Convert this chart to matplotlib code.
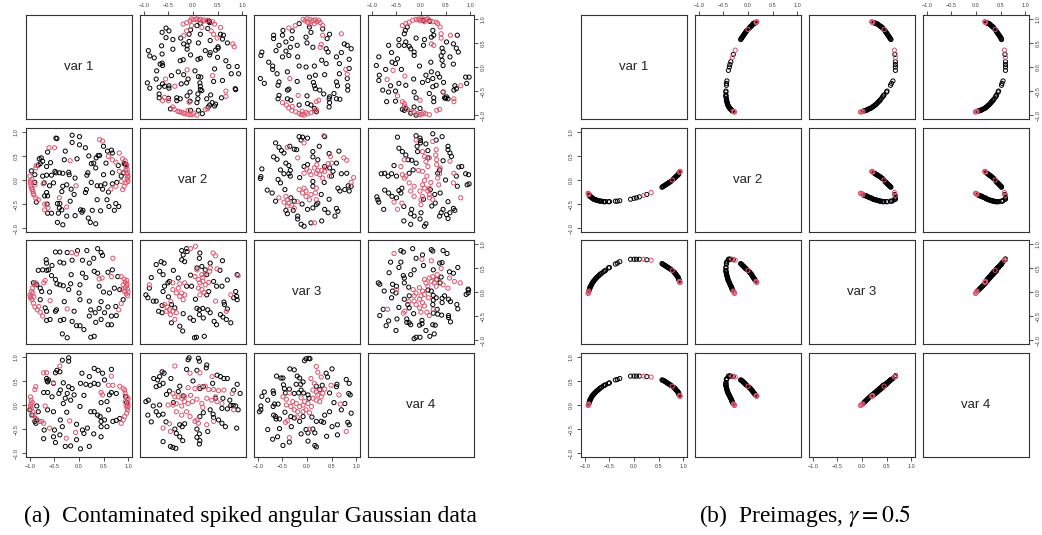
import numpy as np
import matplotlib
matplotlib.use("Agg")
import matplotlib.pyplot as plt

plt.rcParams['font.family'] = ['Liberation Sans', 'DejaVu Sans']
plt.rcParams['mathtext.fontset'] = 'stix'

RED = "#DF536B"

var_names = ["var 1", "var 2", "var 3", "var 4"]
tick_vals = [-1.0, -0.5, 0.0, 0.5, 1.0]
tick_text = ["\u22121.0", "\u22120.5", "0.0", "0.5", "1.0"]
caption_a = "(a)  Contaminated spiked angular Gaussian data"
caption_b = r"(b)  Preimages, $\gamma = 0.5$"

# ---- (a) data, one set per pair: x = var j, y = var i (i > j) ----
a21_black = [(-0.47, 0.87), (-0.45, 0.86), (-0.14, 0.93), (0.01, 0.90), (-0.14, 0.78), (0.01, 0.73), (0.13, 0.67),
             (-0.28, 0.60), (-0.64, 0.58), (-0.81, 0.44), (-0.77, 0.46), (-0.74, 0.39), (-0.79, 0.34), (-0.83, 0.31),
             (-0.66, 0.28), (-0.49, 0.18), (-0.47, 0.15), (-0.40, 0.15), (-0.33, 0.14), (-0.21, 0.16), (-0.20, 0.11),
             (-0.04, 0.44), (0.18, 0.15), (0.16, 0.10), (0.25, 0.34), (0.30, 0.35), (0.35, 0.46), (0.39, 0.51),
             (0.42, 0.51), (0.34, 0.25), (0.50, 0.11), (0.68, 0.15), (0.58, 0.60), (0.66, 0.62), (0.68, 0.56),
             (0.92, 0.34), (0.96, 0.32), (0.94, 0.33), (-0.97, 0.19), (-0.90, 0.11), (-0.74, 0.08), (-0.66, 0.10),
             (-0.56, 0.10), (-0.71, -0.06), (-0.52, -0.06), (-0.33, -0.13), (-0.25, -0.10), (-0.08, 0.04),
             (-0.35, -0.24), (-0.16, -0.19), (-0.66, -0.26), (-0.64, -0.33), (-0.70, -0.33), (-0.87, -0.46),
             (-0.65, -0.50), (-0.44, -0.49), (-0.39, -0.49), (-0.40, -0.58), (-0.35, -0.62), (-0.42, -0.69),
             (-0.64, -0.69), (-0.56, -0.69), (-0.18, -0.44), (0.03, -0.62), (0.06, -0.67), (0.08, -0.63),
             (-0.08, -0.74), (0.15, -0.20), (0.13, -0.26), (0.37, -0.12), (0.44, -0.12), (0.48, -0.19),
             (0.37, -0.41), (0.27, -0.63), (0.44, -0.64), (0.61, -0.55), (0.72, -0.63), (0.57, -0.41),
             (0.75, -0.49), (0.81, -0.55), (0.19, -0.79), (0.23, -0.88), (0.34, -0.91), (-0.44, -0.88),
             (-0.33, -0.93), (0.68, -0.08), (0.77, -0.05), (0.86, 0.08), (0.91, 0.15), (0.53, -0.08),
             (-0.58, 0.36), (-0.30, 0.42), (0.20, 0.50), (0.55, 0.35), (-0.60, -0.12), (0.25, -0.05),
             (-0.10, -0.30), (0.60, -0.25), (-0.90, -0.05), (0.80, 0.30), (-0.25, -0.75), (0.50, 0.70)]
a21_red = [(-0.61, 0.67), (-0.50, 0.67), (-0.18, 0.40), (0.42, 0.84), (0.48, 0.81), (0.60, 0.49), (0.68, 0.42),
           (0.75, 0.37), (0.82, 0.56), (0.89, 0.44), (0.94, 0.40), (0.96, 0.28), (0.98, 0.22), (0.99, 0.15),
           (1.00, 0.08), (0.98, 0.01), (0.96, -0.06), (0.92, -0.13), (0.89, -0.20), (0.82, 0.18), (0.86, -0.03),
           (1.00, -0.03), (0.97, 0.12), (0.95, 0.20), (0.65, -0.19), (-1.00, 0.08), (-0.99, -0.06), (-0.97, -0.17),
           (-0.94, -0.24), (-0.92, -0.31), (-0.88, -0.38), (-0.83, -0.41), (-0.90, -0.10), (-0.96, 0.01),
           (-0.98, -0.12), (-0.95, -0.20), (-0.88, 0.25), (-0.73, -0.08), (-0.87, 0.30), (-0.70, -0.50),
           (-0.70, -0.62), (-0.63, -0.58), (-0.40, -0.37), (-0.06, -0.12), (-0.25, -0.56), (0.75, -0.13),
           (0.99, 0.05), (0.97, 0.30), (-0.99, -0.02), (-0.93, -0.28)]

a31_black = [(-0.48, 0.83), (-0.39, 0.83), (-0.24, 0.82), (-0.03, 0.86), (0.16, 0.86), (0.38, 0.90), (0.45, 0.82),
             (0.48, 0.76), (-0.67, 0.67), (-0.66, 0.60), (-0.39, 0.62), (-0.31, 0.60), (-0.14, 0.66), (0.07, 0.66),
             (0.21, 0.60), (0.31, 0.43), (0.38, 0.39), (-0.83, 0.45), (-0.74, 0.46), (-0.66, 0.45), (-0.62, 0.46),
             (0.07, 0.39), (-0.16, 0.36), (0.59, 0.41), (0.68, 0.46), (0.79, 0.32), (-0.93, 0.19), (-0.86, 0.15),
             (-0.79, 0.08), (-0.76, 0.01), (-0.48, 0.26), (-0.45, 0.17), (-0.39, 0.15), (-0.32, 0.13), (-0.21, 0.05),
             (-0.17, 0.17), (0.02, 0.15), (0.00, -0.02), (0.02, -0.16), (0.21, -0.19), (0.41, 0.12), (0.72, 0.08),
             (0.62, -0.02), (0.83, 0.05), (0.90, -0.16), (-0.79, -0.16), (-0.69, -0.33), (-0.66, -0.40),
             (-0.48, -0.40), (-0.46, -0.37), (0.24, -0.37), (0.33, -0.43), (0.41, -0.34), (0.52, -0.43),
             (0.59, -0.31), (0.66, -0.50), (0.76, -0.49), (-0.38, -0.59), (-0.31, -0.57), (-0.14, -0.61),
             (-0.05, -0.70), (0.02, -0.70), (0.10, -0.78), (0.34, -0.63), (0.45, -0.57), (0.59, -0.68),
             (0.66, -0.68), (-0.34, -0.87), (-0.24, -0.95), (0.24, -0.94), (0.31, -0.92), (0.21, -0.50),
             (-0.59, -0.57), (-0.66, -0.59), (-0.56, 0.34), (0.14, 0.30), (-0.30, -0.20), (0.50, 0.00),
             (-0.55, 0.55), (0.30, 0.70), (-0.10, -0.40), (0.45, -0.20), (0.75, -0.30), (-0.60, 0.00)]
a31_red = [(-0.15, 0.82), (-0.05, 0.79), (0.69, 0.70), (0.41, 0.27), (0.47, 0.29), (0.66, 0.32), (0.86, 0.32),
           (0.92, 0.27), (0.94, 0.20), (0.97, 0.13), (0.99, 0.06), (1.00, 0.00), (0.99, -0.08), (0.97, 0.24),
           (0.90, 0.15), (0.88, 0.06), (0.93, 0.01), (0.96, -0.04), (0.86, -0.24), (0.81, -0.37), (-1.00, -0.06),
           (-0.98, -0.09), (-0.96, -0.16), (-0.93, -0.23), (-0.90, -0.31), (-0.85, -0.37), (-0.79, -0.42),
           (-0.74, -0.50), (-0.97, 0.01), (-0.95, 0.08), (-0.91, 0.15), (-0.88, 0.19), (-0.99, -0.12),
           (-0.94, -0.02), (-0.69, 0.24), (-0.72, 0.19), (-0.59, -0.18), (-0.24, -0.35), (0.98, 0.17),
           (0.95, 0.09), (-0.92, -0.10), (-0.82, -0.30)]

a41_black = [(-0.34, 0.93), (-0.21, 0.98), (-0.21, 0.91), (-0.45, 0.72), (-0.39, 0.69), (-0.48, 0.67), (0.06, 0.66),
             (0.31, 0.76), (0.39, 0.72), (0.48, 0.66), (0.66, 0.74), (0.21, 0.59), (0.52, 0.52), (-0.66, 0.55),
             (-0.62, 0.52), (-0.64, 0.48), (-0.52, 0.45), (-0.32, 0.46), (-0.21, 0.38), (-0.14, 0.34), (-0.38, 0.31),
             (-0.41, 0.24), (0.03, 0.45), (0.14, 0.43), (0.23, 0.41), (0.31, 0.45), (0.39, 0.43), (-0.72, 0.26),
             (-0.64, 0.26), (-0.55, 0.17), (-0.24, 0.24), (-0.28, 0.14), (-0.17, 0.10), (-0.32, 0.03), (-0.10, 0.21),
             (0.02, -0.03), (0.24, -0.14), (0.31, -0.14), (0.38, -0.21), (0.43, -0.24), (0.45, 0.05), (0.57, 0.07),
             (0.62, 0.21), (0.66, 0.26), (0.76, 0.24), (-0.86, -0.02), (-0.83, -0.14), (-0.90, -0.34),
             (-0.88, -0.38), (-0.64, -0.10), (-0.52, -0.14), (-0.38, -0.31), (-0.50, -0.52), (-0.34, -0.45),
             (0.17, -0.48), (0.07, -0.52), (0.10, -0.59), (0.45, -0.45), (0.57, -0.45), (0.45, -0.34),
             (0.52, -0.31), (0.69, -0.34), (0.76, -0.32), (0.83, -0.28), (-0.71, -0.52), (-0.72, -0.70),
             (-0.52, -0.66), (-0.48, -0.78), (-0.39, -0.62), (-0.05, -0.72), (-0.28, -0.86), (-0.17, -0.85),
             (0.03, -0.91), (0.21, -0.86), (0.45, -0.66), (-1.00, -0.10), (-0.96, -0.21), (-0.86, -0.31),
             (0.95, 0.18), (0.97, 0.05), (-0.65, 0.50), (0.10, 0.20), (-0.05, -0.40), (0.30, -0.60),
             (0.60, -0.10), (-0.25, -0.15)]
a41_red = [(-0.72, 0.67), (-0.66, 0.67), (-0.52, 0.46), (-0.39, 0.81), (0.66, 0.60), (0.60, 0.41), (0.69, 0.41),
           (0.45, 0.26), (0.48, 0.21), (0.83, 0.39), (0.90, 0.34), (0.93, 0.31), (0.94, 0.24), (0.97, 0.17),
           (0.99, 0.10), (1.00, 0.03), (1.00, -0.03), (0.99, -0.10), (0.97, -0.17), (0.93, -0.24), (0.90, -0.31),
           (0.86, -0.38), (1.00, 0.14), (0.94, 0.07), (0.96, -0.01), (-0.99, 0.17), (-0.97, 0.09), (-0.98, 0.02),
           (-0.97, -0.07), (-0.94, -0.14), (-0.92, -0.21), (-0.88, -0.28), (-0.81, -0.34), (-0.76, -0.34),
           (-0.72, -0.38), (-0.95, 0.05), (-0.90, 0.32), (-0.88, 0.38), (-0.60, -0.48), (-0.19, -0.33),
           (-0.07, -0.57), (-0.26, -0.69), (-0.69, -0.02), (0.98, -0.06), (-0.99, -0.03)]

a32_black = [(-0.23, 0.86), (-0.13, 0.90), (-0.12, 0.84), (-0.20, 0.77), (-0.23, 0.67), (-0.17, 0.63), (0.14, 0.81),
             (0.13, 0.70), (-0.75, 0.57), (-0.65, 0.63), (-0.59, 0.60), (-0.68, 0.43), (-0.61, 0.36), (-0.51, 0.19),
             (-0.48, 0.22), (-0.58, 0.12), (-0.61, 0.01), (-0.92, -0.12), (-0.96, -0.06), (-0.89, 0.08),
             (-0.81, -0.19), (-0.70, -0.40), (-0.63, -0.43), (-0.30, 0.29), (0.08, 0.50), (0.18, 0.53), (0.25, 0.46),
             (0.28, 0.36), (-0.13, 0.12), (-0.03, 0.12), (0.42, 0.22), (0.48, 0.12), (0.28, -0.06), (0.32, 0.01),
             (0.87, 0.01), (0.89, -0.09), (0.90, -0.16), (0.90, 0.36), (0.59, 0.12), (0.63, -0.21), (0.64, -0.26),
             (0.08, -0.34), (0.13, -0.37), (0.20, -0.34), (0.30, -0.37), (0.35, -0.43), (0.13, -0.47), (0.21, -0.54),
             (0.01, -0.59), (-0.06, -0.54), (0.56, -0.47), (0.61, -0.52), (0.68, -0.57), (0.77, -0.64), (0.43, -0.61),
             (0.48, -0.68), (-0.27, -0.71), (-0.21, -0.81), (-0.44, -0.64), (0.03, -0.95), (0.07, -0.94),
             (0.23, -0.92), (-0.75, -0.19), (-0.63, -0.28), (-0.44, -0.26), (-0.37, -0.33), (0.83, -0.12),
             (0.55, 0.45), (-0.40, 0.45), (0.05, -0.15), (-0.85, 0.30), (0.70, 0.25), (-0.20, -0.45),
             (0.35, 0.60), (0.70, -0.35), (-0.50, -0.10), (0.60, 0.65), (-0.05, 0.35)]
a32_red = [(0.08, 0.46), (0.35, 0.50), (0.41, 0.81), (0.46, 0.75), (0.04, 0.32), (0.18, 0.36), (0.25, 0.39),
           (0.34, 0.43), (0.49, 0.48), (0.11, 0.26), (0.14, 0.19), (0.20, 0.22), (0.25, 0.15), (0.32, 0.20),
           (0.11, 0.08), (0.18, 0.05), (0.23, -0.01), (0.14, -0.06), (-0.41, 0.19), (-0.27, 0.17), (-0.17, 0.19),
           (-0.41, 0.05), (-0.34, -0.02), (-0.27, -0.09), (-0.20, -0.16), (-0.23, -0.02), (-0.17, -0.06),
           (-0.58, -0.26), (-0.53, -0.31), (-0.48, -0.37), (-0.41, -0.40), (-0.34, -0.43), (-0.54, -0.40),
           (-0.46, -0.47), (-0.37, -0.57), (0.77, -0.06), (0.68, -0.40), (0.46, -0.19), (0.92, 0.34),
           (-0.89, 0.15), (-0.05, 0.90), (0.05, 0.95), (0.20, 0.30), (-0.30, 0.08), (-0.45, -0.20)]

a42_black = [(-0.08, 0.98), (0.11, 0.97), (0.13, 0.91), (-0.13, 0.74), (0.08, 0.72), (0.27, 0.77), (-0.63, 0.69),
             (-0.59, 0.66), (-0.68, 0.59), (-0.72, 0.52), (-0.80, 0.55), (-0.75, 0.38), (-0.68, 0.41), (-0.61, 0.45),
             (-0.96, 0.07), (-0.91, 0.10), (-0.54, 0.22), (-0.48, 0.29), (-0.27, 0.39), (-0.30, 0.28), (-0.20, 0.19),
             (0.14, 0.34), (0.21, 0.38), (0.56, 0.59), (0.63, 0.55), (0.70, 0.55), (0.83, 0.31), (0.90, 0.43),
             (0.96, 0.24), (0.77, -0.01), (0.82, -0.01), (0.87, -0.02), (0.92, -0.10), (0.59, -0.07), (0.70, -0.08),
             (-0.92, -0.21), (-0.75, -0.14), (-0.70, -0.21), (-0.61, -0.19), (-0.81, -0.02), (-0.68, 0.00),
             (-0.27, -0.41), (-0.22, -0.45), (-0.17, -0.39), (0.14, -0.24), (0.21, -0.16), (0.35, -0.10),
             (0.41, -0.19), (0.42, -0.26), (0.52, -0.31), (0.59, -0.38), (0.66, -0.45), (0.89, -0.48), (0.08, -0.50),
             (0.13, -0.60), (0.08, -0.67), (0.14, -0.74), (0.13, -0.81), (-0.37, -0.50), (-0.34, -0.59),
             (-0.27, -0.66), (-0.21, -0.74), (-0.61, -0.76), (-0.46, -0.86), (-0.41, -0.88), (-0.35, -0.90),
             (-0.10, 0.94), (0.49, 0.62), (0.28, 0.83), (0.46, 0.14), (0.61, 0.14), (-0.40, 0.05), (0.00, 0.50),
             (-0.55, -0.35), (0.30, -0.55), (0.75, 0.10), (-0.45, 0.55), (0.40, 0.45), (-0.85, -0.35)]
a42_red = [(-0.37, 0.81), (-0.06, 0.66), (0.14, 0.67), (0.39, 0.59), (-0.10, 0.36), (0.04, 0.34), (0.13, 0.38),
           (0.25, 0.39), (0.32, 0.32), (0.42, 0.32), (0.52, 0.30), (0.63, 0.31), (0.80, 0.24), (-0.41, 0.24),
           (-0.37, 0.17), (-0.30, 0.17), (-0.23, 0.14), (-0.17, 0.17), (-0.51, 0.00), (-0.41, 0.00), (-0.34, 0.03),
           (-0.23, -0.02), (-0.17, 0.07), (-0.10, 0.03), (-0.01, 0.07), (0.08, 0.12), (0.18, 0.03), (0.28, 0.14),
           (0.38, 0.10), (0.46, 0.17), (0.49, 0.07), (0.59, 0.03), (-0.34, -0.14), (-0.23, -0.21), (-0.13, -0.14),
           (-0.06, -0.24), (0.04, -0.34), (0.08, -0.31), (0.11, -0.38), (0.28, -0.41), (0.42, -0.34),
           (-0.61, -0.48), (-0.48, -0.39), (-0.46, -0.55), (0.83, -0.10), (0.20, -0.05), (-0.05, 0.20)]

a43_black = [(-0.02, 0.96), (0.04, 0.97), (0.06, 0.96), (-0.05, 0.92), (-0.35, 0.75), (-0.26, 0.73), (-0.62, 0.60),
             (-0.53, 0.56), (-0.49, 0.56), (-0.15, 0.56), (-0.08, 0.48), (-0.13, 0.43), (-0.22, 0.43), (0.39, 0.66),
             (0.51, 0.75), (0.42, 0.58), (0.61, 0.43), (0.80, 0.53), (0.86, 0.45), (-0.48, 0.42), (-0.46, 0.34),
             (-0.44, 0.25), (-0.69, 0.29), (-0.68, 0.24), (-0.87, 0.27), (-0.92, 0.18), (-0.94, -0.02),
             (-0.94, -0.10), (-0.97, -0.14), (-0.69, -0.03), (-0.66, 0.02), (-0.59, 0.02), (-0.36, 0.33),
             (-0.26, 0.24), (-0.17, 0.25), (-0.12, 0.31), (-0.07, 0.25), (0.02, 0.21), (0.04, 0.14), (0.19, 0.39),
             (0.26, 0.32), (0.31, 0.41), (0.46, 0.25), (0.60, 0.38), (0.85, 0.24), (0.88, 0.21), (0.77, 0.03),
             (0.70, -0.10), (0.90, -0.17), (0.83, -0.36), (0.86, -0.41), (0.62, -0.41), (-0.68, -0.21),
             (-0.64, -0.24), (-0.63, -0.29), (-0.56, -0.29), (-0.33, -0.24), (-0.26, -0.27), (-0.15, -0.34),
             (-0.08, -0.24), (0.19, -0.34), (0.29, -0.34), (0.34, -0.36), (-0.80, -0.51), (-0.56, -0.49),
             (-0.32, -0.45), (-0.02, -0.51), (0.02, -0.58), (0.12, -0.50), (0.16, -0.58), (-0.70, -0.71),
             (-0.60, -0.66), (-0.36, -0.77), (-0.49, -0.84), (-0.12, -0.60), (0.02, -0.75), (0.16, -0.84),
             (0.19, -0.87), (0.51, -0.45), (0.62, -0.62), (0.46, -0.14), (0.36, -0.21), (-0.20, 0.60),
             (0.55, 0.05), (-0.80, 0.10), (0.40, -0.65), (-0.45, -0.15), (0.10, -0.25)]
a43_red = [(0.19, 0.80), (0.22, 0.68), (0.29, 0.58), (0.08, 0.55), (0.49, 0.41), (0.65, 0.21), (0.68, 0.02),
           (-0.36, 0.25), (-0.49, 0.17), (-0.42, 0.00), (-0.44, -0.36), (0.12, 0.31), (0.19, 0.27), (0.26, 0.31),
           (0.32, 0.24), (0.22, 0.21), (0.29, 0.17), (0.36, 0.33), (-0.29, 0.07), (-0.22, 0.03), (-0.15, -0.03),
           (-0.08, 0.00), (-0.33, -0.03), (-0.26, -0.10), (-0.19, -0.14), (-0.05, 0.07), (0.02, 0.03),
           (0.09, -0.03), (-0.02, -0.10), (0.05, -0.16), (-0.08, -0.14), (0.12, 0.14), (0.19, 0.10), (0.26, 0.07),
           (-0.36, -0.68), (0.05, -0.50), (-0.40, -0.33), (0.80, -0.55), (-0.42, 0.12), (-0.12, 0.15),
           (0.15, 0.45), (-0.20, -0.25)]

# ---- (b) preimages: four coordinates per point, red flag ----
b_var1 = [-0.93, -0.935, -0.925, -0.92, -0.915, -0.91, -0.905, -0.90, -0.895, -0.89, -0.88, -0.87, -0.86, -0.85,
          -0.84, -0.83, -0.82, -0.80, -0.79, -0.775, -0.76, -0.74, -0.72, -0.70, -0.69, -0.66, -0.62, -0.60, -0.58,
          -0.52, -0.50, -0.38, -0.34, -0.29, -0.07, 0.00, 0.05, 0.11, 0.20, 0.26, 0.35,
          0.57, 0.585, 0.60, 0.615, 0.63, 0.645, 0.66, 0.675, 0.69, 0.705, 0.72, 0.735, 0.75, 0.765, 0.78, 0.80,
          0.815, 0.83, 0.84, 0.85, 0.865, 0.88, 0.895, 0.90, 0.905, 0.91, 0.915, 0.92, 0.925, 0.93, 0.935, 0.94]
b_var2 = [-0.28, -0.275, -0.285, -0.30, -0.31, -0.32, -0.325, -0.33, -0.335, -0.34, -0.35, -0.36, -0.37, -0.375,
          -0.38, -0.39, -0.40, -0.405, -0.41, -0.415, -0.42, -0.425, -0.43, -0.435, -0.44, -0.44, -0.45, -0.45,
          -0.45, -0.45, -0.45, -0.44, -0.44, -0.43, -0.40, -0.38, -0.37, -0.35, -0.32, -0.30, -0.26,
          -0.15, -0.14, -0.13, -0.12, -0.11, -0.10, -0.09, -0.08, -0.07, -0.06, -0.05, -0.04, -0.03, -0.015, 0.00,
          0.02, 0.03, 0.04, 0.055, 0.07, 0.08, 0.09, 0.10, 0.11, 0.12, 0.13, 0.14, 0.15, 0.165, 0.17, 0.175, 0.18]
b_var3 = [-0.02, -0.03, 0.00, 0.02, 0.03, 0.05, 0.065, 0.08, 0.095, 0.11, 0.125, 0.14, 0.17, 0.185, 0.20, 0.215,
          0.23, 0.25, 0.27, 0.285, 0.30, 0.32, 0.34, 0.355, 0.37, 0.39, 0.42, 0.435, 0.45, 0.50, 0.51, 0.58, 0.60,
          0.63, 0.68, 0.68, 0.68, 0.68, 0.68, 0.67, 0.66,
          0.59, 0.58, 0.57, 0.56, 0.55, 0.54, 0.53, 0.52, 0.51, 0.50, 0.49, 0.48, 0.47, 0.46, 0.45, 0.43, 0.415,
          0.40, 0.385, 0.37, 0.35, 0.33, 0.315, 0.30, 0.285, 0.27, 0.255, 0.24, 0.22, 0.21, 0.205, 0.20]
b_var4 = [0.00, -0.01, 0.01, 0.02, 0.04, 0.06, 0.075, 0.09, 0.105, 0.12, 0.135, 0.15, 0.18, 0.19, 0.20, 0.215,
          0.23, 0.245, 0.26, 0.275, 0.29, 0.305, 0.32, 0.34, 0.35, 0.37, 0.40, 0.41, 0.42, 0.45, 0.46, 0.52, 0.53,
          0.55, 0.60, 0.60, 0.60, 0.60, 0.60, 0.59, 0.58,
          0.52, 0.515, 0.51, 0.50, 0.49, 0.48, 0.47, 0.46, 0.45, 0.44, 0.43, 0.42, 0.41, 0.40, 0.39, 0.37, 0.36,
          0.35, 0.335, 0.32, 0.305, 0.29, 0.275, 0.26, 0.25, 0.24, 0.225, 0.21, 0.195, 0.19, 0.185, 0.18]
b_red = [1, 1, 1, 1, 0, 0, 0, 0, 0, 0, 0, 0, 0, 0, 0, 0, 0, 0, 0, 0, 0, 0, 0, 0, 0, 0, 0, 0, 0, 0, 0, 0, 0, 0,
         0, 0, 0, 0, 1, 0, 1,
         0, 0, 0, 0, 0, 0, 0, 0, 0, 0, 0, 0, 0, 0, 1, 0, 0, 0, 0, 0, 0, 0, 0, 0, 0, 0, 0, 0, 1, 1, 1, 1]

a_pairs = {(1, 0): (a21_black, a21_red), (2, 0): (a31_black, a31_red), (3, 0): (a41_black, a41_red),
           (2, 1): (a32_black, a32_red), (3, 1): (a42_black, a42_red), (3, 2): (a43_black, a43_red)}

W, H = 1042, 535
fig = plt.figure(figsize=(W / 100, H / 100), dpi=100)

col_left_a = [26, 140, 254, 368]
col_left_b = [581, 695, 809, 923]
row_top = [15, 128, 240, 353]
pw, ph = 106, 104


def make_ax(x0, y0):
    return fig.add_axes([x0 / W, 1 - (y0 + ph) / H, pw / W, ph / H])


def style(ax, i, j):
    lim = 1.08
    ax.set_xlim(-lim, lim)
    ax.set_ylim(-lim, lim)
    for s in ax.spines.values():
        s.set_linewidth(0.8)
        s.set_color("#333333")
    ax.set_xticks(tick_vals)
    ax.set_yticks(tick_vals)
    ax.set_xticklabels(tick_text, fontsize=4, color="#444444")
    ax.set_yticklabels(tick_text, fontsize=4, color="#444444", rotation=90, va="center")
    ax.tick_params(axis="both", length=3, width=0.6, color="#333333", pad=2,
                   top=False, bottom=False, left=False, right=False,
                   labeltop=False, labelbottom=False, labelleft=False, labelright=False)
    if i == 0 and j % 2 == 1:
        ax.tick_params(axis="x", top=True, labeltop=True)
    if i == 3 and j % 2 == 0:
        ax.tick_params(axis="x", bottom=True, labelbottom=True)
    if j == 0 and i % 2 == 1:
        ax.tick_params(axis="y", left=True, labelleft=True)
    if j == 3 and i % 2 == 0:
        ax.tick_params(axis="y", right=True, labelright=True)


def pts(ax, xy, color):
    xy = np.array(xy)
    ax.scatter(xy[:, 0], xy[:, 1], s=9, facecolors="none", edgecolors=color, linewidths=0.7)


# (a) pairs
for i in range(4):
    for j in range(4):
        ax = make_ax(col_left_a[j], row_top[i])
        style(ax, i, j)
        if i == j:
            ax.text(0, 0, var_names[i], ha="center", va="center", fontsize=9.5, color="#222222")
            continue
        if i > j:
            blk, red = a_pairs[(i, j)]
            pts(ax, blk, "black")
            pts(ax, red, RED)
        else:
            blk, red = a_pairs[(j, i)]
            pts(ax, [(q, p) for p, q in blk], "black")
            pts(ax, [(q, p) for p, q in red], RED)

# (b) pairs
b_vars = [np.array(b_var1), np.array(b_var2), np.array(b_var3), np.array(b_var4)]
b_mask = np.array(b_red) == 1
for i in range(4):
    for j in range(4):
        ax = make_ax(col_left_b[j], row_top[i])
        style(ax, i, j)
        if i == j:
            ax.text(0, 0, var_names[i], ha="center", va="center", fontsize=9.5, color="#222222")
            continue
        xv, yv = b_vars[j], b_vars[i]
        pts(ax, np.column_stack([xv[~b_mask], yv[~b_mask]]), "black")
        pts(ax, np.column_stack([xv[b_mask], yv[b_mask]]), RED)

fig.text(250 / W, 1 - 516 / H, caption_a, ha="center", va="center", fontsize=17,
         family=["Liberation Serif", "DejaVu Serif"])
fig.text(805 / W, 1 - 516 / H, caption_b, ha="center", va="center", fontsize=17,
         family=["Liberation Serif", "DejaVu Serif"])

fig.savefig("out.png", dpi=100)
